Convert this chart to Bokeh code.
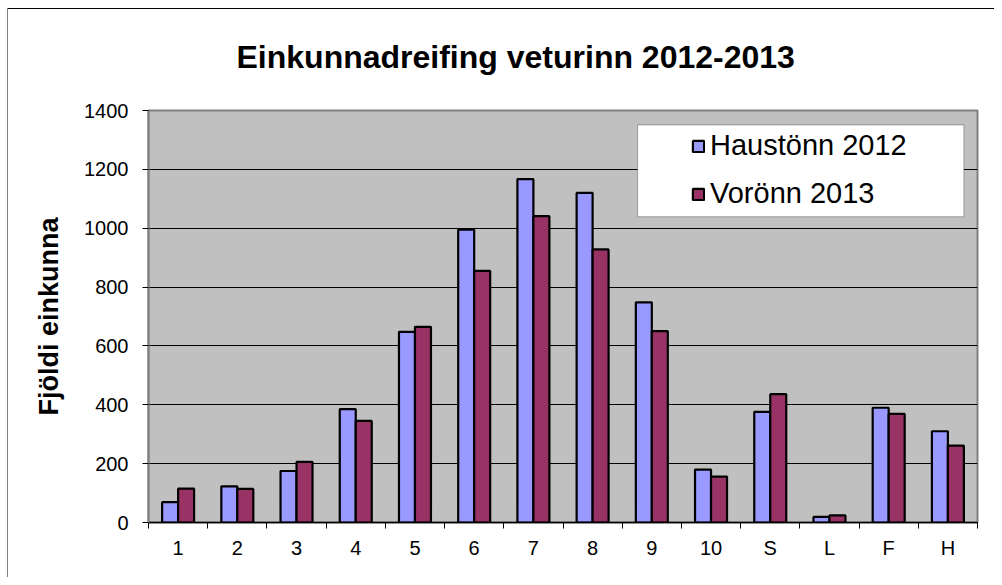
import numpy as np
from bokeh.plotting import figure
from bokeh.models import Range1d, FixedTicker, Title, Legend, LegendItem, BoxAnnotation, InlineStyleSheet
from bokeh.embed import file_html
from bokeh.resources import INLINE

categories = ["1", "2", "3", "4", "5", "6", "7", "8", "9", "10", "S", "L", "F", "H"]
haust_2012 = [69, 123, 175, 385, 648, 995, 1167, 1120, 748, 180, 376, 19, 390, 310]
vor_2013 = [115, 114, 206, 345, 665, 855, 1041, 928, 650, 156, 436, 24, 369, 261]
y_ticks = [0, 200, 400, 600, 800, 1000, 1200, 1400]
series_names = ["Haustönn 2012", "Vorönn 2013"]
title_text = "Einkunnadreifing veturinn 2012-2013"
y_label = "Fjöldi einkunna"

FONT = "Liberation Sans"
BLUE = "#9999FF"
PURPLE = "#993366"

n = len(categories)
centers = np.arange(n) + 0.5

p = figure(width=994, height=577, output_backend="svg", toolbar_location=None,
           x_range=Range1d(0, n), y_range=Range1d(0, y_ticks[-1]),
           min_border_left=148, min_border_right=17, min_border_top=110, min_border_bottom=55)
# outer chart border on the left and top edges (inset shadows, no layout change)
p.stylesheets = [InlineStyleSheet(css=":host { background-color: white; "
                                      "box-shadow: inset 7px 8px 0 0 #ffffff, "
                                      "inset 8px 0 0 0 #808080, inset 0 9px 0 0 #000000; }")]
p.background_fill_color = "#C0C0C0"
p.border_fill_color = None
p.outline_line_color = "#808080"
p.outline_line_width = 2

bw = 0.27
r1 = p.vbar(x=centers - bw / 2, top=haust_2012, width=bw, fill_color=BLUE,
            line_color="black", line_width=2.2)
r2 = p.vbar(x=centers + bw / 2, top=vor_2013, width=bw, fill_color=PURPLE,
            line_color="black", line_width=2.2)

# x axis: labels at centres, tick marks at category boundaries
xa = p.xaxis[0]
xa.ticker = FixedTicker(ticks=list(centers), minor_ticks=list(range(n + 1)))
xa.major_label_overrides = {float(c): lab for c, lab in zip(centers, categories)}
xa.major_tick_out = 0
xa.major_tick_in = 0
xa.minor_tick_out = 6
xa.minor_tick_in = 0
xa.minor_tick_line_color = "black"
xa.minor_tick_line_width = 1
xa.axis_line_color = "black"
xa.axis_line_width = 1.5
xa.major_label_text_font = FONT
xa.major_label_text_font_size = "20px"
xa.major_label_text_color = "black"
xa.major_label_standoff = 8

ya = p.yaxis[0]
ya.ticker = FixedTicker(ticks=y_ticks)
ya.major_tick_out = 6
ya.major_tick_in = 0
ya.minor_tick_line_color = None
ya.major_tick_line_color = "black"
ya.axis_line_color = "#808080"
ya.axis_line_width = 2
ya.major_label_text_font = FONT
ya.major_label_text_font_size = "20px"
ya.major_label_text_color = "black"
ya.major_label_standoff = 14
ya.axis_label = y_label
ya.axis_label_text_font = FONT
ya.axis_label_text_font_size = "27px"
ya.axis_label_text_font_style = "bold"
ya.axis_label_text_color = "black"
ya.axis_label_standoff = 17

p.xgrid.grid_line_color = None
p.ygrid.ticker = FixedTicker(ticks=y_ticks)
p.ygrid.grid_line_color = "black"
p.ygrid.grid_line_width = 1

title = Title(text=title_text, align="left", offset=88, standoff=71,
              text_font=FONT, text_font_size="32px", text_font_style="bold",
              text_color="black")
p.add_layout(title, "above")

# legend box
box = BoxAnnotation(left=8.26, right=13.77, bottom=1039, top=1351,
                    fill_color="white", fill_alpha=1.0, line_color="black", line_width=1,
                    level="annotation")
p.add_layout(box)

legend = Legend(items=[LegendItem(label=series_names[0], renderers=[r1]),
                       LegendItem(label=series_names[1], renderers=[r2])],
                location=(543, 312), orientation="vertical")
legend.background_fill_alpha = 0
legend.border_line_color = None
legend.padding = 0
legend.margin = 0
legend.spacing = 15
legend.glyph_width = 14
legend.glyph_height = 14
legend.label_height = 30
legend.label_standoff = 5
legend.label_text_font = FONT
legend.label_text_font_size = "29px"
legend.label_text_color = "black"
p.add_layout(legend)

open("out.html", "w").write(file_html(p, INLINE))
